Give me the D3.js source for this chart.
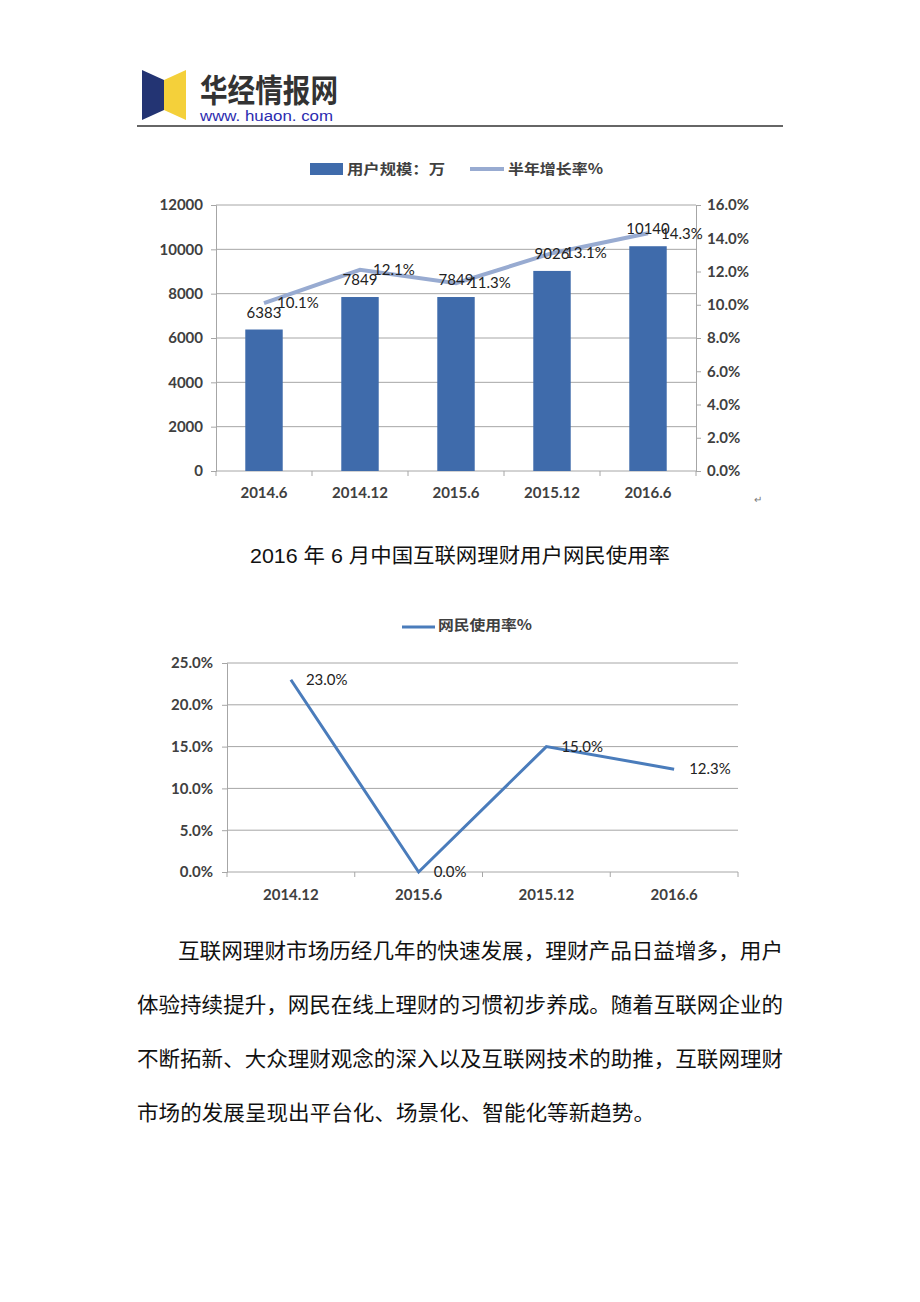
<!DOCTYPE html>
<html>
<head>
<meta charset="utf-8">
<script src="https://cdn.jsdelivr.net/npm/d3@7"></script>
<style>
  body { margin: 0; background: #fff; }
  svg { display: block; }
</style>
</head>
<body>
<svg id="page" width="920" height="1302"></svg>
<script>
// chart 1: user scale (bars) + half-year growth (line)
const periods1 = ["2014.6", "2014.12", "2015.6", "2015.12", "2016.6"]
const users = [6383, 7849, 7849, 9026, 10140]
const growth = [10.1, 12.1, 11.3, 13.1, 14.3]
const userTicks = [0, 2000, 4000, 6000, 8000, 10000, 12000]
const growthTicks = [0, 2, 4, 6, 8, 10, 12, 14, 16]

// chart 2: netizen usage rate
const periods2 = ["2014.12", "2015.6", "2015.12", "2016.6"]
const usage = [23.0, 0.0, 15.0, 12.3]
const usageTicks = [0, 5, 10, 15, 20, 25]

const caption = "2016 年 6 月中国互联网理财用户网民使用率"
const paragraph = [
    "互联网理财市场历经几年的快速发展，理财产品日益增多，用户",
    "体验持续提升，网民在线上理财的习惯初步养成。随着互联网企业的",
    "不断拓新、大众理财观念的深入以及互联网技术的助推，互联网理财",
    "市场的发展呈现出平台化、场景化、智能化等新趋势。"
]

const latin = "Lato, 'Liberation Sans', sans-serif"
const cjk = "'Noto Sans CJK SC', sans-serif"
const gridColor = "#a6a6a6"
const tickColor = "#404040"

let svg = d3.select("#page")

const styleTicks = sel => sel
    .style("font-family", latin).style("font-size", "15px")
    .style("font-weight", "bold").style("fill", tickColor)

// ---------- header / logo ----------
let logo = svg.append("g")
logo.append("path")
    .attr("d", "M142,70 L164,80 L164,110 L142,120 Z")
    .style("fill", "#233473")
logo.append("path")
    .attr("d", "M164,80 L186,70 L186,120 L164,110 Z")
    .style("fill", "#f4d03a")
logo.append("text")
    .attr("x", 200).attr("y", 102)
    .attr("textLength", 138).attr("lengthAdjust", "spacingAndGlyphs")
    .style("font-family", cjk).style("font-weight", "bold")
    .style("font-size", "32px").style("fill", "#333")
    .text("华经情报网")
logo.append("text")
    .attr("x", 200).attr("y", 121)
    .attr("textLength", 133).attr("lengthAdjust", "spacingAndGlyphs")
    .style("font-family", "'Liberation Sans', sans-serif")
    .style("font-size", "14px").style("fill", "#2b2bb0")
    .text("www. huaon. com")
svg.append("line")
    .attr("x1", 137).attr("x2", 783).attr("y1", 126).attr("y2", 126)
    .style("stroke", "#333").style("stroke-width", 1.5)

// ---------- chart 1 ----------
const renderChart1 = () => {
    let x0 = 216, x1 = 696, base = 471
    let x = d3.scaleBand().domain(periods1).range([x0, x1]).paddingInner(0.61).paddingOuter(0.305),
        y = d3.scaleLinear().domain([0, 12000]).range([base, 205]),
        yR = d3.scaleLinear().domain([0, 16]).range([base, 205])

    let g = svg.append("g")

    // gridlines
    g.selectAll(".grid1").data(userTicks.slice(1)).enter().append("line")
        .attr("x1", x0).attr("x2", x1)
        .attr("y1", d => y(d)).attr("y2", d => y(d))
        .style("stroke", gridColor).style("stroke-width", 1)

    let left = g.append("g").attr("transform", `translate(${x0},0)`)
        .call(d3.axisLeft(y).tickValues(userTicks).tickSize(5).tickPadding(8).tickFormat(d3.format("d")))
    let right = g.append("g").attr("transform", `translate(${x1},0)`)
        .call(d3.axisRight(yR).tickValues(growthTicks).tickSize(5).tickPadding(6).tickFormat(d => d.toFixed(1) + "%"))

    // x axis with ticks between categories
    let step = x.step()
    let bottom = g.append("g").attr("transform", `translate(0,${base})`)
    bottom.append("line").attr("x1", x0).attr("x2", x1).style("stroke", gridColor)
    bottom.selectAll(".xt").data(d3.range(periods1.length + 1)).enter().append("line")
        .attr("x1", i => x0 + i * step).attr("x2", i => x0 + i * step)
        .attr("y1", 0).attr("y2", 5).style("stroke", gridColor)
    bottom.selectAll(".xl").data(periods1).enter().append("text")
        .attr("x", d => x(d) + x.bandwidth() / 2).attr("y", 27)
        .attr("text-anchor", "middle")
        .call(styleTicks)
        .text(d => d)

    for (let ax of [left, right]) {
        ax.select(".domain").style("stroke", gridColor)
        ax.selectAll(".tick line").style("stroke", gridColor)
        ax.selectAll(".tick text").call(styleTicks)
    }

    // bars
    g.selectAll(".bar").data(users).enter().append("rect")
        .attr("x", (d, i) => x(periods1[i]))
        .attr("width", x.bandwidth())
        .attr("y", d => y(d))
        .attr("height", d => base - y(d))
        .style("fill", "#3f6bab")

    // growth line
    let line = d3.line()
        .x((d, i) => x(periods1[i]) + x.bandwidth() / 2)
        .y(d => yR(d))
    g.append("path")
        .attr("d", line(growth))
        .style("fill", "none").style("stroke", "#98abd1").style("stroke-width", 4)

    // labels
    g.selectAll(".bl").data(users).enter().append("text")
        .attr("x", (d, i) => x(periods1[i]) + x.bandwidth() / 2)
        .attr("y", d => y(d) - 12)
        .attr("text-anchor", "middle")
        .style("font-family", latin).style("font-size", "15px").style("fill", "#222")
        .text(d => d)
    g.selectAll(".gl").data(growth).enter().append("text")
        .attr("x", (d, i) => x(periods1[i]) + x.bandwidth() / 2 + 13)
        .attr("y", d => yR(d)).attr("dy", "0.35em")
        .style("font-family", latin).style("font-size", "15px").style("fill", "#222")
        .text(d => d.toFixed(1) + "%")

    // legend
    let lg = g.append("g")
    lg.append("rect").attr("x", 310).attr("y", 163).attr("width", 33).attr("height", 12).style("fill", "#3f6bab")
    lg.append("text").attr("x", 347).attr("y", 174)
        .attr("textLength", 98).attr("lengthAdjust", "spacingAndGlyphs")
        .style("font-family", cjk).style("font-size", "14px").style("font-weight", "bold").style("fill", "#404040")
        .text("用户规模：万")
    lg.append("line").attr("x1", 470).attr("x2", 504).attr("y1", 169).attr("y2", 169)
        .style("stroke", "#98abd1").style("stroke-width", 4)
    lg.append("text").attr("x", 508).attr("y", 174)
        .attr("textLength", 95).attr("lengthAdjust", "spacingAndGlyphs")
        .style("font-family", cjk).style("font-size", "14px").style("font-weight", "bold").style("fill", "#404040")
        .text("半年增长率%")

    g.append("text").attr("x", 754).attr("y", 503)
        .style("font-family", latin).style("font-size", "10px").style("fill", "#777")
        .text("↵")
}

// ---------- caption ----------
svg.append("text")
    .attr("x", 460).attr("y", 563)
    .attr("text-anchor", "middle")
    .attr("textLength", 420).attr("lengthAdjust", "spacingAndGlyphs")
    .style("font-family", "'Liberation Sans', " + cjk)
    .style("font-size", "20px").style("fill", "#111")
    .text(caption)

// ---------- chart 2 ----------
const renderChart2 = () => {
    let x0 = 227, x1 = 738, base = 872
    let x = d3.scaleBand().domain(periods2).range([x0, x1]),
        y = d3.scaleLinear().domain([0, 25]).range([base, 663])

    let g = svg.append("g")

    g.selectAll(".grid2").data(usageTicks.slice(1)).enter().append("line")
        .attr("x1", x0).attr("x2", x1)
        .attr("y1", d => y(d)).attr("y2", d => y(d))
        .style("stroke", gridColor).style("stroke-width", 1)

    let left = g.append("g").attr("transform", `translate(${x0},0)`)
        .call(d3.axisLeft(y).tickValues(usageTicks).tickSize(5).tickPadding(9).tickFormat(d => d.toFixed(1) + "%"))
    left.select(".domain").style("stroke", gridColor)
    left.selectAll(".tick line").style("stroke", gridColor)
    left.selectAll(".tick text").call(styleTicks)

    let step = x.step()
    let bottom = g.append("g").attr("transform", `translate(0,${base})`)
    bottom.append("line").attr("x1", x0).attr("x2", x1).style("stroke", gridColor)
    bottom.selectAll(".xt").data(d3.range(periods2.length + 1)).enter().append("line")
        .attr("x1", i => x0 + i * step).attr("x2", i => x0 + i * step)
        .attr("y1", 0).attr("y2", 5).style("stroke", gridColor)
    bottom.selectAll(".xl").data(periods2).enter().append("text")
        .attr("x", d => x(d) + step / 2).attr("y", 28)
        .attr("text-anchor", "middle")
        .call(styleTicks)
        .text(d => d)

    let line = d3.line()
        .x((d, i) => x(periods2[i]) + step / 2)
        .y(d => y(d))
    g.append("path")
        .attr("d", line(usage))
        .style("fill", "none").style("stroke", "#4a7cbb").style("stroke-width", 3)

    g.selectAll(".ul").data(usage).enter().append("text")
        .attr("x", (d, i) => x(periods2[i]) + step / 2 + 15)
        .attr("y", d => y(d)).attr("dy", "0.35em")
        .style("font-family", latin).style("font-size", "15px").style("fill", "#222")
        .text(d => d.toFixed(1) + "%")

    g.append("line").attr("x1", 402).attr("x2", 435).attr("y1", 627).attr("y2", 627)
        .style("stroke", "#4a7cbb").style("stroke-width", 3)
    g.append("text").attr("x", 438).attr("y", 630)
        .attr("textLength", 94).attr("lengthAdjust", "spacingAndGlyphs")
        .style("font-family", cjk).style("font-size", "14px").style("font-weight", "bold").style("fill", "#404040")
        .text("网民使用率%")
}

renderChart1()
renderChart2()

// ---------- paragraph ----------
svg.selectAll(".para").data(paragraph).enter().append("text")
    .attr("x", (d, i) => i === 0 ? 178 : 137)
    .attr("y", (d, i) => 958 + i * 54)
    .attr("textLength", (d, i) => i === 0 ? 605 : (i === 3 ? 518 : 646))
    .attr("lengthAdjust", "spacingAndGlyphs")
    .style("font-family", cjk).style("font-size", "21px").style("fill", "#111")
    .text(d => d)
</script>
</body>
</html>
